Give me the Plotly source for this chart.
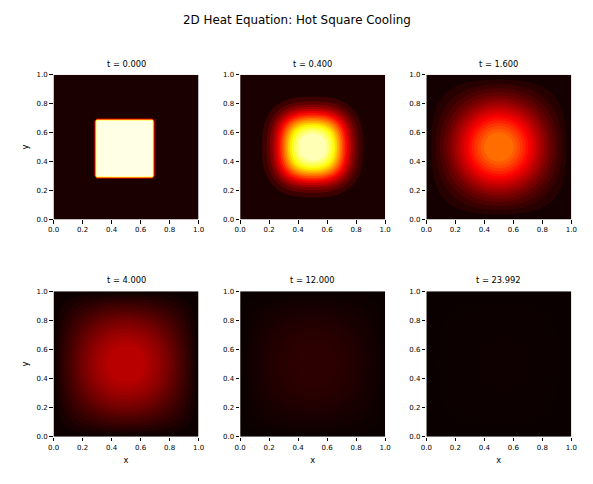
import numpy as np
import plotly.graph_objects as go

# Centre-line profiles u(x, y=0.5) estimated from band positions in the picture,
# guided by the shape of a diffusing square; the field is symmetric and separable.
titles = ["t = 0.000", "t = 0.400", "t = 1.600", "t = 4.000", "t = 12.000", "t = 23.992"]

x_t0 = [0.0, 0.28, 0.30, 0.68, 0.70, 1.0]
p_t0 = [0.0, 0.0, 1.0, 1.0, 0.0, 0.0]

x_half = [0.0, 0.025, 0.05, 0.075, 0.1, 0.125, 0.15, 0.175, 0.2, 0.225, 0.25,
          0.275, 0.3, 0.325, 0.35, 0.375, 0.4, 0.425, 0.45, 0.475, 0.5]
p_t04 = [0, .0006, .0024, .006, .0127, .0253, .0468, .081, .132, .2008, .288,
         .39, .5, .61, .712, .799, .868, .918, .951, .969, .975]
p_t16 = [0, .028, .056, .087, .119, .155, .194, .238, .283, .332, .383,
         .435, .487, .537, .585, .627, .665, .695, .718, .731, .736]
p_t40 = [0, .0369, .0736, .1101, .1464, .1823, .2174, .2518, .2854, .3175, .3483,
         .3772, .4041, .4288, .4509, .47, .4861, .4988, .508, .5136, .5155]
p_t120 = [0, .018, .0358, .0534, .0708, .0876, .104, .1196, .1346, .1487, .1619,
          .1741, .1853, .1952, .204, .2116, .2178, .2227, .2262, .2283, .229]
p_t240 = [0, .0055, .011, .0164, .0217, .0268, .0318, .0366, .0412, .0455, .0496,
          .0533, .0567, .0598, .0625, .0648, .0667, .0682, .0692, .0699, .0701]

tick_vals = [0.0, 0.2, 0.4, 0.6, 0.8, 1.0]
tick_text = ["0.0", "0.2", "0.4", "0.6", "0.8", "1.0"]

W, H = 593, 484
col_px = [(48.5, 196.5), (239, 387), (429, 577)]
row_px = [(72, 219), (292, 440)]
N_BANDS = 20
FONT = "DejaVu Sans"


def hot(v):
    r = np.interp(v, [0, 0.365, 1], [0.0416, 1, 1])
    g = np.interp(v, [0, 0.365, 0.746, 1], [0, 0, 1, 1])
    b = np.interp(v, [0, 0.746, 1], [0, 0, 1])
    return "rgb(%d,%d,%d)" % (round(r * 255), round(g * 255), round(b * 255))


def mirror(half):
    return list(half) + list(half[-2::-1])


x_full = [float(v) for v in x_half] + [round(1 - v, 3) for v in x_half[-2::-1]]
panels = [(x_t0, p_t0)] + [(x_full, mirror(p)) for p in (p_t04, p_t16, p_t40, p_t120, p_t240)]

fig = go.Figure()
layout = {}
annotations = []
for i, ((xs, prof), title) in enumerate(zip(panels, titles)):
    row, col = divmod(i, 3)
    prof = np.array(prof, dtype=float)
    z = np.outer(prof, prof)
    peak = float(z.max())
    cs = peak / N_BANDS
    colors = [hot((k + 0.5) * cs) for k in range(N_BANDS)]
    colorscale = [[k / (N_BANDS - 1), c] for k, c in enumerate(colors)]
    sfx = "" if i == 0 else str(i + 1)
    fig.add_trace(go.Contour(
        x=xs, y=xs, z=z.tolist(),
        xaxis="x" + sfx, yaxis="y" + sfx,
        autocontour=False,
        contours=dict(start=cs, end=cs * (N_BANDS - 1.5), size=cs, coloring="fill", showlines=False),
        line=dict(width=0, smoothing=0),
        colorscale=colorscale, showscale=False, hoverinfo="skip",
    ))
    x0, x1 = col_px[col]
    y0, y1 = row_px[row]
    common = dict(range=[0, 1], tickmode="array", tickvals=tick_vals, ticktext=tick_text,
                  ticks="outside", ticklen=3.5, tickwidth=0.8, tickcolor="#000000",
                  showgrid=False, zeroline=False, showline=False,
                  tickfont=dict(family=FONT, size=7, color="#000000"))
    xa = dict(common, domain=[x0 / W, x1 / W], anchor="y" + sfx)
    ya = dict(common, domain=[1 - y1 / H, 1 - y0 / H], anchor="x" + sfx)
    if row == 1:
        xa["title"] = dict(text="x", font=dict(family=FONT, size=8.3, color="#000000"), standoff=6)
    if col == 0:
        ya["title"] = dict(text="y", font=dict(family=FONT, size=8.3, color="#000000"), standoff=6)
    layout["xaxis" + sfx] = xa
    layout["yaxis" + sfx] = ya
    annotations.append(dict(text=title, xref="paper", yref="paper", x=(x0 + x1) / 2 / W,
                            y=1 - (y0 - 4) / H, xanchor="center", yanchor="bottom", showarrow=False,
                            font=dict(family=FONT, size=8.3, color="#000000")))

annotations.append(dict(text="2D Heat Equation: Hot Square Cooling", xref="paper", yref="paper",
                        x=297 / W, y=1 - 16 / H, xanchor="center", yanchor="middle", showarrow=False,
                        font=dict(family=FONT, size=11.9, color="#000000")))

fig.update_layout(width=W, height=H, margin=dict(l=0, r=0, t=0, b=0), paper_bgcolor="white",
                  plot_bgcolor="white", showlegend=False, annotations=annotations, **layout)
fig.write_html("out.html", config={"displayModeBar": False},
               post_script="document.body.style.margin='0';")
